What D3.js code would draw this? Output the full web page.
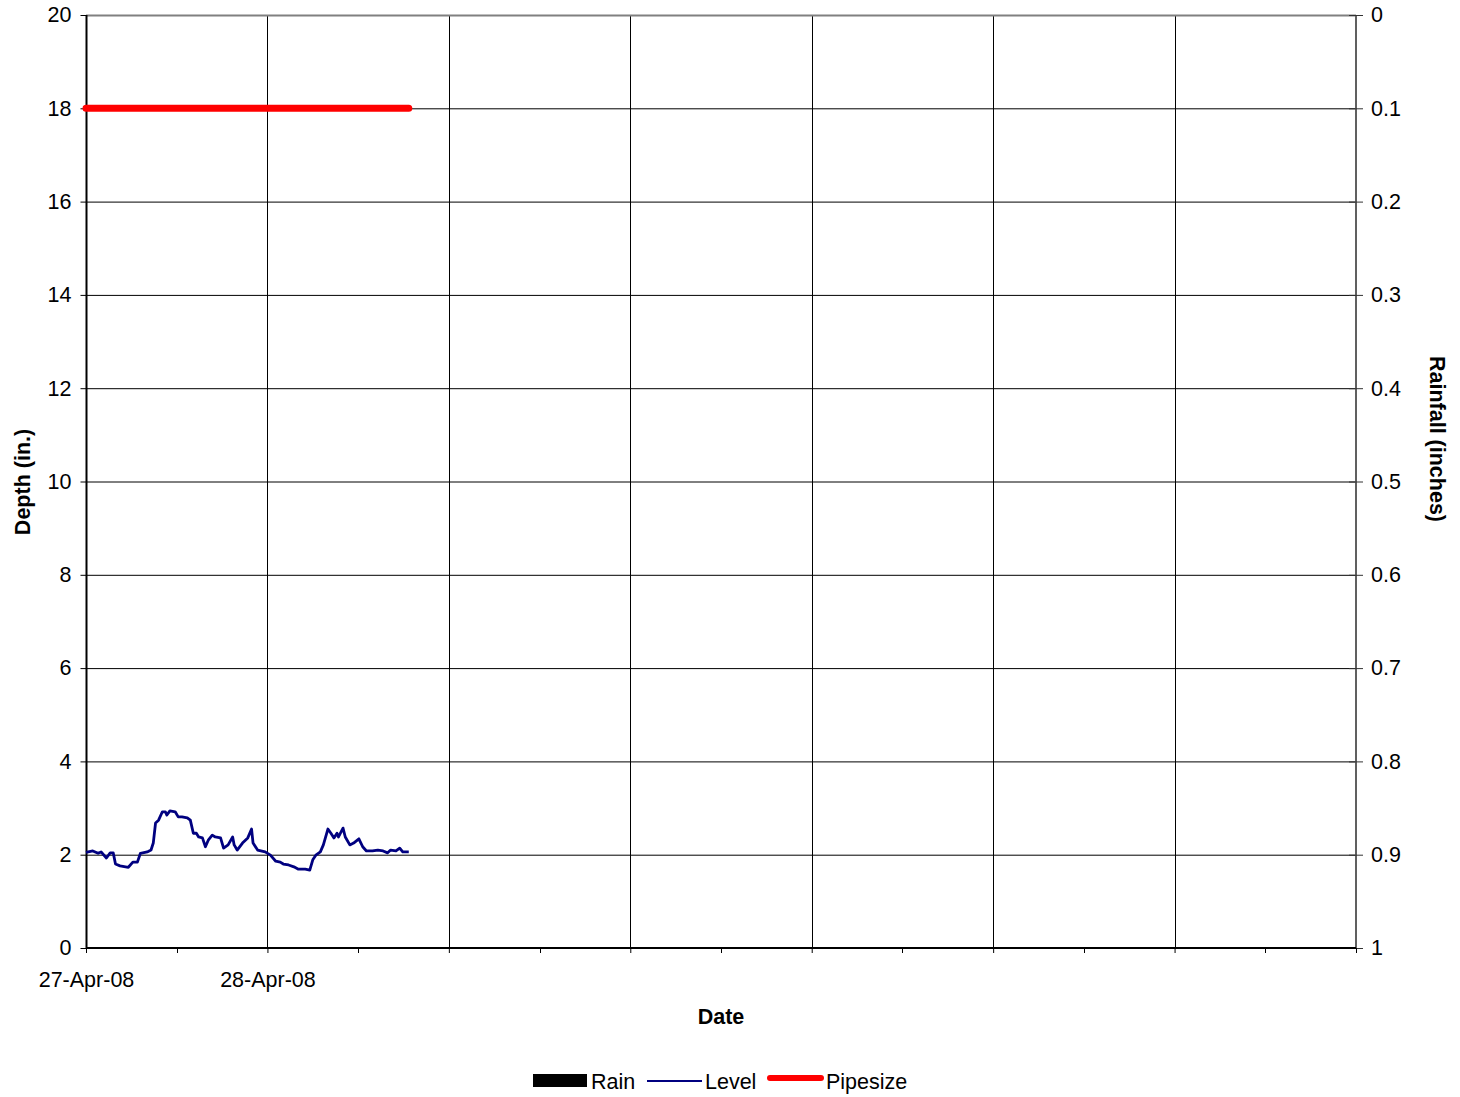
<!DOCTYPE html>
<html><head><meta charset="utf-8">
<script src="https://cdn.jsdelivr.net/npm/d3@7"></script>
<style>body{margin:0;background:#fff}svg{display:block;font-family:"Liberation Sans",Arial,sans-serif}</style>
</head><body>
<script>
// ---- data ----
const startDate = new Date(2008, 3, 27, 0, 0);
const endDate = new Date(2008, 4, 4, 0, 0);
const xTickLabels = ["27-Apr-08", "28-Apr-08", "", "", "", "", "", ""];
const depthTicks = [0, 2, 4, 6, 8, 10, 12, 14, 16, 18, 20];
const rainTicks = [0, 0.1, 0.2, 0.3, 0.4, 0.5, 0.6, 0.7, 0.8, 0.9, 1];
// hours after start
const levelHours = [0, 0.9, 1.6, 2.0, 2.7, 3.2, 3.6, 3.9, 4.5, 5.6, 6.2, 6.8, 7.2, 8.1, 8.6, 8.9, 9.2, 9.6, 10.1, 10.5, 10.7, 11.1, 11.8, 12.2, 12.7, 13.4, 13.8, 14.2, 14.6, 14.9, 15.4, 15.8, 16.2, 16.7, 17.1, 17.8, 18.2, 18.8, 19.4, 19.6, 20.0, 20.7, 21.4, 21.9, 22.1, 22.7, 23.7, 24.4, 25.1, 25.7, 26.1, 26.8, 27.5, 28.1, 29.0, 29.6, 30.0, 30.4, 31.0, 31.4, 32.0, 32.4, 32.8, 33.2, 33.4, 34.0, 34.3, 34.9, 35.4, 36.1, 36.6, 37.1, 37.9, 38.6, 39.3, 39.9, 40.3, 41.0, 41.5, 41.9, 42.7];
const levelValues = [2.05, 2.08, 2.03, 2.06, 1.93, 2.04, 2.04, 1.80, 1.76, 1.73, 1.84, 1.84, 2.03, 2.06, 2.10, 2.25, 2.68, 2.74, 2.92, 2.92, 2.85, 2.94, 2.92, 2.81, 2.81, 2.79, 2.74, 2.46, 2.46, 2.38, 2.36, 2.17, 2.32, 2.42, 2.38, 2.36, 2.14, 2.21, 2.38, 2.21, 2.10, 2.25, 2.36, 2.55, 2.25, 2.10, 2.06, 1.99, 1.86, 1.84, 1.80, 1.78, 1.74, 1.69, 1.69, 1.67, 1.89, 1.99, 2.06, 2.21, 2.55, 2.46, 2.36, 2.46, 2.38, 2.57, 2.38, 2.21, 2.25, 2.34, 2.17, 2.08, 2.08, 2.10, 2.08, 2.04, 2.10, 2.08, 2.14, 2.06, 2.06];
const pipeHours = [0, 42.7];
const pipeValues = [18, 18];
const rainHours = [];
const rainValues = [];
const legendItems = ["Rain", "Level", "Pipesize"];

// ---- chart ----
const W = 1460, H = 1097, FS = 21.5;
const m = {left: 86, right: 1356, top: 15, bottom: 948};
const hr = h => new Date(startDate.getTime() + h * 3600e3);
const svg = d3.select("body").append("svg").attr("width", W).attr("height", H);
const x = d3.scaleTime().domain([startDate, endDate]).range([m.left, m.right]);
const y = d3.scaleLinear().domain([0, 20]).range([m.bottom, m.top]);
const yR = d3.scaleLinear().domain([0, 1]).range([m.top, m.bottom]);

const dayTicks = d3.timeDay.range(startDate, d3.timeDay.offset(endDate, 1));
const halfTicks = d3.timeHour.every(12).range(startDate, d3.timeHour.offset(endDate, 1));

// gridlines
const g = svg.append("g");
g.selectAll(".hg").data(depthTicks.slice(1, -1)).join("line")
  .attr("x1", m.left).attr("x2", m.right).attr("y1", d => y(d) + 0.5).attr("y2", d => y(d) + 0.5)
  .attr("stroke", "#000").attr("stroke-width", 1);
g.selectAll(".vg").data(dayTicks.slice(1, -1)).join("line")
  .attr("x1", d => Math.round(x(d)) + 0.5).attr("x2", d => Math.round(x(d)) + 0.5)
  .attr("y1", m.top).attr("y2", m.bottom).attr("stroke", "#000").attr("stroke-width", 1);
// top border gray
svg.append("line").attr("x1", m.left).attr("x2", m.right).attr("y1", m.top + 0.5).attr("y2", m.top + 0.5)
  .attr("stroke", "#808080").attr("stroke-width", 2);

// rain bars (none)
svg.append("g").selectAll("rect").data(rainHours.map((h, i) => ({t: hr(h), v: rainValues[i]}))).join("rect")
  .attr("x", d => x(d.t)).attr("width", 2).attr("y", m.top).attr("height", d => yR(d.v) - m.top).attr("fill", "#000");

const fam = "Liberation Sans, Arial, sans-serif";
// left axis
const axL = svg.append("g").attr("transform", `translate(${m.left + 0.5},0)`)
  .call(d3.axisLeft(y).tickValues(depthTicks).tickSize(6).tickPadding(9).tickFormat(d3.format("d")));
axL.selectAll("text").attr("font-size", FS).attr("fill", "#000").attr("font-family", fam);
axL.selectAll("line").attr("stroke", "#000");
axL.select(".domain").attr("stroke", "#000").attr("stroke-width", 2).attr("d", `M0,${m.top}V${m.bottom}`);

// right axis
const axR = svg.append("g").attr("transform", `translate(${m.right},0)`)
  .call(d3.axisRight(yR).tickValues(rainTicks).tickSize(7).tickPadding(8).tickFormat(d => d === 0 ? "0" : d === 1 ? "1" : d3.format(".1f")(d)));
axR.selectAll("text").attr("font-size", FS).attr("fill", "#000").attr("font-family", fam);
axR.selectAll(".tick line").attr("stroke", "#333").attr("x1", -7);
axR.select(".domain").attr("stroke", "#606060").attr("stroke-width", 2).attr("d", `M0,${m.top}V${m.bottom}`);

// bottom axis
const axB = svg.append("g").attr("transform", `translate(0,${m.bottom})`)
  .call(d3.axisBottom(x).tickValues(dayTicks).tickSize(5).tickPadding(19).tickFormat((d, i) => xTickLabels[i] || ""));
axB.selectAll("text").attr("font-size", FS).attr("fill", "#000").attr("font-family", fam);
axB.selectAll("line").attr("stroke", "#000");
axB.select(".domain").attr("stroke", "#000").attr("stroke-width", 2).attr("d", `M${m.left},0H${m.right}`);
svg.append("g").attr("transform", `translate(0,${m.bottom})`)
  .selectAll("line").data(halfTicks.filter(d => d.getHours() === 12)).join("line")
  .attr("x1", d => Math.round(x(d)) + 0.5).attr("x2", d => Math.round(x(d)) + 0.5).attr("y1", 0).attr("y2", 5)
  .attr("stroke", "#000");

// pipesize
const pipeData = pipeHours.map((h, i) => ({t: hr(h), v: pipeValues[i]}));
svg.append("path").datum(pipeData)
  .attr("d", d3.line().x(d => x(d.t)).y(d => y(d.v)))
  .attr("fill", "none").attr("stroke", "#ff0000").attr("stroke-width", 7).attr("stroke-linecap", "round");

// level
const levelData = levelHours.map((h, i) => ({t: hr(h), v: levelValues[i]}));
svg.append("path").datum(levelData)
  .attr("d", d3.line().x(d => x(d.t)).y(d => y(d.v)))
  .attr("fill", "none").attr("stroke", "#000080").attr("stroke-width", 2.8).attr("stroke-linejoin", "round");

// axis titles
svg.append("text").attr("transform", "translate(30,482) rotate(-90)").attr("text-anchor", "middle")
  .attr("font-size", FS).attr("font-weight", "bold").text("Depth (in.)");
svg.append("text").attr("transform", "translate(1430,439) rotate(90)").attr("text-anchor", "middle")
  .attr("font-size", FS).attr("font-weight", "bold").text("Rainfall (inches)");
svg.append("text").attr("x", 721).attr("y", 1024).attr("text-anchor", "middle")
  .attr("font-size", FS).attr("font-weight", "bold").text("Date");

// legend
const lg = svg.append("g").attr("font-size", FS);
lg.append("rect").attr("x", 533).attr("y", 1074).attr("width", 54).attr("height", 13).attr("fill", "#000");
lg.append("text").attr("x", 591).attr("y", 1089).text(legendItems[0]);
lg.append("line").attr("x1", 647).attr("x2", 702).attr("y1", 1081).attr("y2", 1081).attr("stroke", "#000080").attr("stroke-width", 2);
lg.append("text").attr("x", 705).attr("y", 1089).text(legendItems[1]);
lg.append("line").attr("x1", 770).attr("x2", 821).attr("y1", 1078).attr("y2", 1078).attr("stroke", "#ff0000").attr("stroke-width", 6).attr("stroke-linecap", "round");
lg.append("text").attr("x", 826).attr("y", 1089).text(legendItems[2]);
</script>
</body></html>
